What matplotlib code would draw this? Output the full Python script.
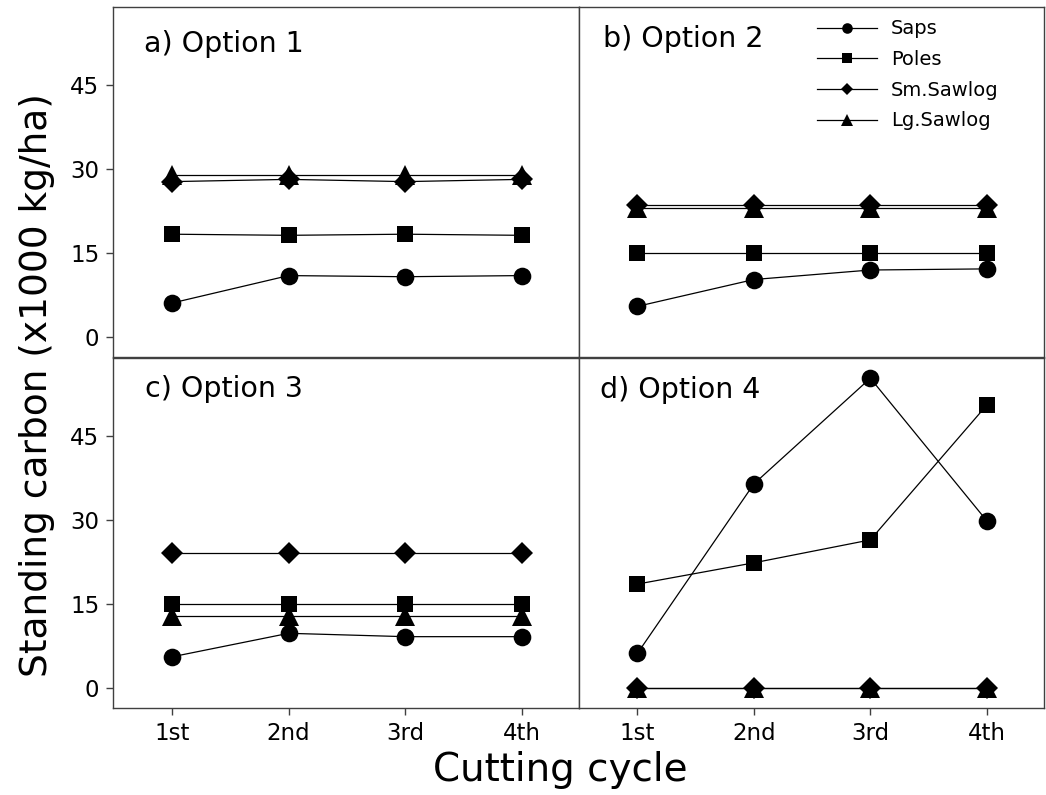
import matplotlib
matplotlib.use("Agg")
import matplotlib.pyplot as plt

# cutting cycles
cycles = ["1st", "2nd", "3rd", "4th"]
x = [1, 2, 3, 4]

# standing carbon (x1000 kg/ha), one list per size class and option
saps_1 = [6.1, 11.0, 10.8, 11.0]
poles_1 = [18.4, 18.2, 18.4, 18.2]
smsaw_1 = [27.8, 28.2, 27.8, 28.2]
lgsaw_1 = [28.9, 28.9, 28.9, 28.9]

saps_2 = [5.5, 10.3, 12.0, 12.2]
poles_2 = [15.0, 15.0, 15.0, 15.0]
smsaw_2 = [23.7, 23.7, 23.7, 23.7]
lgsaw_2 = [23.1, 23.1, 23.1, 23.1]

saps_3 = [5.5, 9.7, 9.1, 9.1]
poles_3 = [15.0, 15.0, 15.0, 15.0]
smsaw_3 = [24.0, 24.0, 24.0, 24.0]
lgsaw_3 = [12.8, 12.8, 12.8, 12.8]

saps_4 = [6.1, 36.4, 55.3, 29.8]
poles_4 = [18.5, 22.3, 26.4, 50.5]
smsaw_4 = [0.0, 0.0, 0.0, 0.0]
lgsaw_4 = [0.0, 0.0, 0.0, 0.0]

titles = ["a) Option 1", "b) Option 2", "c) Option 3", "d) Option 4"]
series_names = ["Saps", "Poles", "Sm.Sawlog", "Lg.Sawlog"]
panels = [
    [saps_1, poles_1, smsaw_1, lgsaw_1],
    [saps_2, poles_2, smsaw_2, lgsaw_2],
    [saps_3, poles_3, smsaw_3, lgsaw_3],
    [saps_4, poles_4, smsaw_4, lgsaw_4],
]

markers = ["o", "s", "D", "^"]
msizes = [12.7, 12, 11, 15]
spine_col = "#404040"

fig = plt.figure(figsize=(10.46, 7.95), dpi=100)

# axes rectangles (fig fraction): a, b, c, d
left_x, right_x, w = 0.1083, 0.5531, 0.4449
top_y, bot_y, h = 0.5506, 0.1098, 0.4405
rects = [(left_x, top_y, w, h), (right_x, top_y, w, h),
         (left_x, bot_y, w, h), (right_x, bot_y, w, h)]
title_pos = [(0.065, 0.872), (0.052, 0.887), (0.069, 0.887), (0.047, 0.883)]

axes = []
for i, rect in enumerate(rects):
    ax = fig.add_axes(rect)
    for j, vals in enumerate(panels[i]):
        ax.plot(x, vals, color="black", lw=0.9, marker=markers[j],
                markersize=msizes[j], markeredgewidth=0, label=series_names[j])
    ax.set_xlim(0.495, 4.49)
    ax.set_ylim(-3.6, 59)
    ax.set_yticks([0, 15, 30, 45])
    ax.set_xticks(x)
    ax.set_xticklabels(cycles)
    for s in ax.spines.values():
        s.set_color(spine_col)
        s.set_linewidth(1.0)
    ax.tick_params(direction="out", length=5, width=1, color=spine_col,
                   labelsize=16.5, pad=5)
    if i % 2 == 1:
        ax.tick_params(axis="y", left=False, labelleft=False)
    if i < 2:
        ax.tick_params(axis="x", bottom=False, labelbottom=False)
    ax.text(title_pos[i][0], title_pos[i][1], titles[i], transform=ax.transAxes,
            fontsize=20.5, va="baseline", ha="left")
    axes.append(ax)

axes[1].legend(loc="upper left", bbox_to_anchor=(0.512, 0.965), frameon=False,
               fontsize=14, handlelength=3.1, handletextpad=0.7,
               labelspacing=0.6, borderpad=0, borderaxespad=0, markerscale=0.6)

fig.text(0.0354, 0.516, "Standing carbon (x1000 kg/ha)", rotation=90,
         fontsize=27, ha="center", va="center")
fig.text(0.536, 0.031, "Cutting cycle", fontsize=28, ha="center", va="center")

plt.savefig("out.png", dpi=100)
